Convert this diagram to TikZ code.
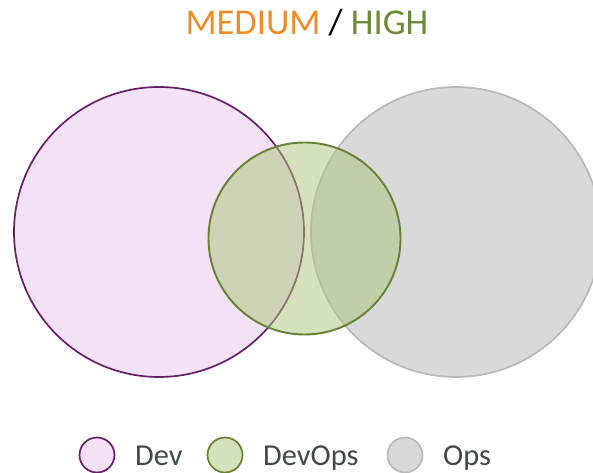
\documentclass[tikz,border=0pt]{standalone}
\usepackage{fontspec}
\setmainfont{Carlito}
\definecolor{devfill}{RGB}{243,226,245}
\definecolor{devline}{RGB}{100,32,100}
\definecolor{dofill}{RGB}{173,197,121}
\definecolor{dolegend}{RGB}{213,226,188}
\definecolor{doline}{RGB}{102,128,52}
\definecolor{opsfill}{RGB}{217,217,217}
\definecolor{opsline}{RGB}{185,185,185}
\definecolor{medcol}{RGB}{238,140,42}
\definecolor{highcol}{RGB}{108,138,58}
\definecolor{legtext}{RGB}{66,72,72}
\tikzset{
  devset/.style={circle, fill=devfill, draw=devline, line width=1.7bp, inner sep=0pt},
  opsset/.style={circle, fill=opsfill, draw=opsline, line width=1.7bp, inner sep=0pt},
  doset/.style={circle, fill=dofill, fill opacity=0.5, draw=doline, draw opacity=1, line width=1.9bp, inner sep=0pt},
  legdo/.style={circle, fill=dolegend, draw=doline, line width=1.7bp, inner sep=0pt, minimum size=35bp},
  legdev/.style={devset, minimum size=35bp},
  legops/.style={opsset, minimum size=35bp},
  legtxt/.style={anchor=base west, inner sep=0pt, text=legtext, font=\fontsize{30.5}{36}\selectfont},
}
\begin{document}
\begin{tikzpicture}[x=1bp, y=-1bp]
\useasboundingbox (0,0) rectangle (593,473);
\begin{scope}
\clip (0,0) rectangle (593,473);
\node[devset, minimum size=290bp] (dev) at (159,232) {};
\node[opsset, minimum size=290bp] (ops) at (456,232) {};
\node[doset, minimum size=192bp] (devops) at (304.5,238.5) {};
\end{scope}
\node[anchor=base, inner sep=0pt, font=\fontsize{36.5}{42}\selectfont] (title) at (307,35)
  {\textcolor{medcol}{MEDIUM} / \textcolor{highcol}{HIGH}};
\node[legdev] (ldev) at (97,455) {};
\node[legdo] (ldo) at (225,455) {};
\node[legops] (lops) at (405,455) {};
\node[legtxt] (tdev) at (135,465) {Dev};
\node[legtxt] (tdo) at (263,465) {DevOps};
\node[legtxt] (tops) at (443,465) {Ops};
\end{tikzpicture}
\end{document}
